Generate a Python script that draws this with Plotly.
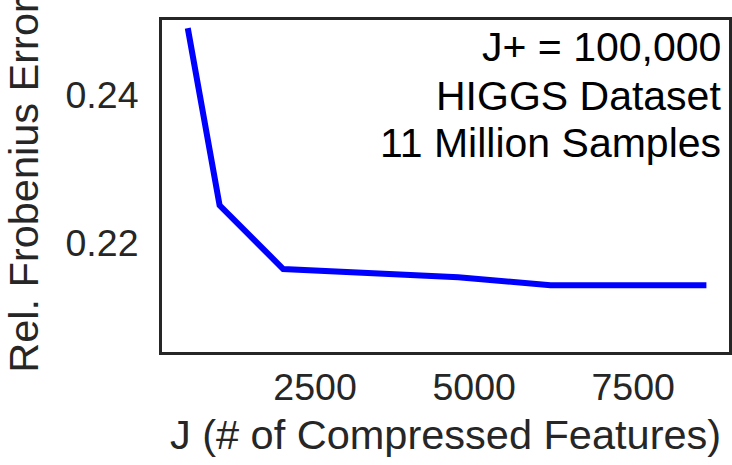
import plotly.graph_objects as go

# Data
J_values = [500, 1000, 2000, 4750, 6200, 8650]
rel_frob_error = [0.2490, 0.2251, 0.2165, 0.2154, 0.2143, 0.2143]

x_ticks = [2500, 5000, 7500]
y_ticks = [0.22, 0.24]
y_tick_labels = ["0.22", "0.24"]

annotation_lines = ["J+ = 100,000", "HIGGS Dataset", "11 Million Samples"]
annotation_ypos = [0.919, 0.771, 0.630]

FONT = "Liberation Sans, Arial, sans-serif"
DARK = "#262626"

fig = go.Figure()
fig.add_trace(go.Scatter(
    x=J_values, y=rel_frob_error, mode="lines",
    line=dict(color="#0000ff", width=6),
    showlegend=False, hoverinfo="skip",
))

for txt, yp in zip(annotation_lines, annotation_ypos):
    fig.add_annotation(
        x=1, y=yp, xref="paper", yref="paper",
        xanchor="right", yanchor="middle", xshift=-6,
        text=txt, align="right", showarrow=False,
        font=dict(family=FONT, size=41, color="black"),
    )

fig.update_layout(
    width=732, height=465,
    margin=dict(l=162, r=0, t=20, b=113),
    plot_bgcolor="white", paper_bgcolor="white",
    font=dict(family=FONT, size=37, color=DARK),
    xaxis=dict(
        range=[95, 9005], tickvals=x_ticks, ticktext=[str(v) for v in x_ticks],
        showgrid=False, zeroline=False, showline=True, linecolor=DARK,
        linewidth=3, mirror=True, ticks="", ticklabelstandoff=0,
        tickfont=dict(family=FONT, size=37.5, color=DARK),
        title=dict(text="J (# of Compressed Features)", standoff=13,
                   font=dict(family=FONT, size=41.5, color=DARK)),
    ),
    yaxis=dict(
        range=[0.2053, 0.2501], tickvals=y_ticks, ticktext=y_tick_labels,
        showgrid=False, zeroline=False, showline=True, linecolor=DARK,
        linewidth=3, mirror=True, ticks="", ticklabelstandoff=13,
        tickfont=dict(family=FONT, size=37.5, color=DARK),
        title=dict(text="Rel. Frobenius Error", standoff=20,
                   font=dict(family=FONT, size=41.5, color=DARK)),
    ),
)

fig.write_html("out.html", config={"displayModeBar": False},
               post_script="document.body.style.margin='0';")
